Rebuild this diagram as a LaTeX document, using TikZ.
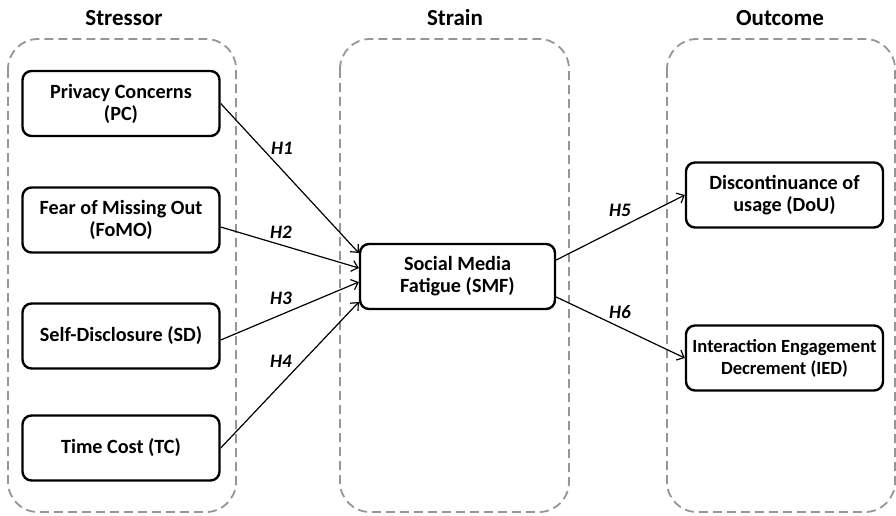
\documentclass[tikz,border=0pt]{standalone}
\usepackage{fontspec}
\setmainfont{Carlito}
\usetikzlibrary{arrows.meta,calc}
\tikzset{
  group/.style={draw={rgb,255:red,150;green,150;blue,150}, line width=1.8pt, dash pattern=on 9pt off 5pt, rounded corners=30pt},
  var/.style={draw, line width=2.4pt, rounded corners=9pt, minimum width=197pt, minimum height=65pt, align=center, inner sep=0pt,
    font=\fontsize{20.2}{22}\selectfont\bfseries},
  head/.style={font=\fontsize{23}{26}\selectfont\bfseries},
  hlab/.style={font=\fontsize{19}{22}\selectfont\bfseries\itshape},
  link/.style={line width=1.2pt, -{Straight Barb[length=6pt,width=11pt]}}
}
\begin{document}
\begin{tikzpicture}[x=1pt,y=-1pt]
\useasboundingbox (0,0) rectangle (896,516);
\draw[group] (8,39) rectangle (236,512);
\draw[group] (340,39) rectangle (569,512);
\draw[group] (667,39) rectangle (895,512);
\node[head] (hs) at (124,18) {Stressor};
\node[head] (hst) at (455,18) {Strain};
\node[head] (ho) at (780,18) {Outcome};

\node[var] (pc) at (121,103.5) {Privacy Concerns\\(PC)};
\node[var] (fomo) at (121,220) {Fear of Missing Out\\(FoMO)};
\node[var] (sd) at (121,336) {Self-Disclosure (SD)};
\node[var] (tc) at (121,448) {Time Cost (TC)};
\node[var, minimum width=195pt] (smf) at (457.5,276.5) {Social Media\\Fatigue (SMF)};
\node[var] (dou) at (784.5,195) {Discontinuance of\\usage (DoU)};
\node[var, font=\fontsize{18.6}{22}\selectfont\bfseries] (ied) at (784.5,358) {Interaction Engagement\\Decrement (IED)};

\draw[link] (pc.east) -- ($(smf.west)+(0,-23.5)$);
\draw[link] ($(fomo.east)+(0,7)$) -- ($(smf.west)+(0,-8.5)$);
\draw[link] ($(sd.east)+(0,4)$) -- ($(smf.west)+(0,5.5)$);
\draw[link] (tc.east) -- ($(smf.west)+(0,25.5)$);
\draw[link] ($(smf.east)+(0,-16.5)$) -- (dou.west);
\draw[link] ($(smf.east)+(0,20.5)$) -- (ied.west);

\node[hlab] (h1) at (282,148) {H1};
\node[hlab] (h2) at (281,232) {H2};
\node[hlab] (h3) at (281,298) {H3};
\node[hlab] (h4) at (281,361) {H4};
\node[hlab] (h5) at (620,210) {H5};
\node[hlab] (h6) at (620,312) {H6};
\end{tikzpicture}
\end{document}
